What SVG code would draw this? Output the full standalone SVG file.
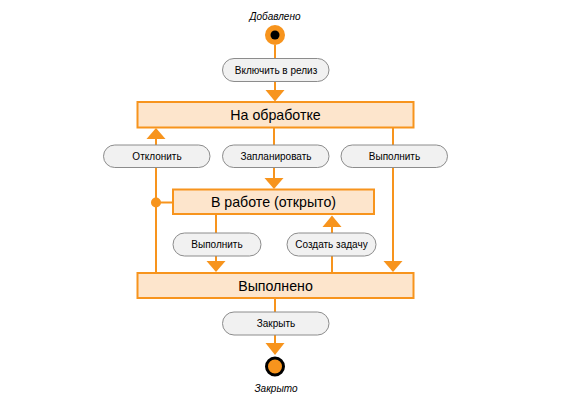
<svg xmlns="http://www.w3.org/2000/svg" width="566" height="406" viewBox="0 0 566 406">
<defs>
<style>
.ln{stroke:#f7941d;stroke-width:2;fill:none}
.ah{fill:#f7941d}
.st rect{fill:#fde5cc;stroke:#f7941d;stroke-width:2}
.st text{font-family:"Liberation Sans",Arial,sans-serif;font-size:14.2px;fill:#000;text-anchor:middle}
.tr rect{fill:#f1f1f1;stroke:#8c8c8c;stroke-width:1}
.tr text{font-family:"Liberation Sans",Arial,sans-serif;font-size:10px;fill:#000;text-anchor:middle}
.lbl{font-family:"Liberation Sans",Arial,sans-serif;font-size:10px;font-style:italic;fill:#000;text-anchor:middle}
</style>
</defs>
<rect width="566" height="406" fill="#fff"/>
<g id="connectors">
<path class="ln" d="M275 45V92"/>
<path class="ah" d="M265.5 90H284.5L275 101.5Z"/>
<path class="ln" d="M156 137V273"/>
<path class="ah" d="M146.5 139H165.5L156 128Z"/>
<path class="ln" d="M274 128V180"/>
<path class="ah" d="M264.5 178H283.5L274 189Z"/>
<path class="ln" d="M393 128V263"/>
<path class="ah" d="M383.5 261H402.5L393 272Z"/>
<circle cx="156" cy="202.5" r="5" fill="#f7941d"/>
<path class="ln" d="M156 202.5H173"/>
<path class="ln" d="M216 214V263"/>
<path class="ah" d="M206.5 261H225.5L216 272Z"/>
<path class="ln" d="M332 225V273"/>
<path class="ah" d="M322.5 227H341.5L332 215.5Z"/>
<path class="ln" d="M275 298V345"/>
<path class="ah" d="M265.5 343H284.5L275 355Z"/>
</g>
<g id="start">
<circle cx="275" cy="35" r="10" fill="#f7941d"/>
<circle cx="275" cy="35" r="4.5" fill="#000"/>
<text class="lbl" x="275" y="19.5">Добавлено</text>
</g>
<g id="end">
<circle cx="275" cy="366.5" r="8.5" fill="#f7941d" stroke="#000" stroke-width="3"/>
<text class="lbl" x="276" y="391.5">Закрыто</text>
</g>
<g id="t-include" class="tr"><rect x="222.5" y="58.5" width="106.5" height="23" rx="11.5"/><text x="276" y="73.5">Включить в релиз</text></g>
<g id="s-processing" class="st"><rect x="137.5" y="102" width="276" height="25.5"/><text x="275.5" y="119.5">На обработке</text></g>
<g id="t-reject" class="tr"><rect x="103.5" y="145" width="106.5" height="22.5" rx="11.25"/><text x="157" y="160">Отклонить</text></g>
<g id="t-plan" class="tr"><rect x="222.5" y="145" width="106.5" height="22.5" rx="11.25"/><text x="276" y="160">Запланировать</text></g>
<g id="t-do1" class="tr"><rect x="341" y="145" width="106.5" height="22.5" rx="11.25"/><text x="394.5" y="160">Выполнить</text></g>
<g id="s-inwork" class="st"><rect x="173" y="189.5" width="201" height="24.5"/><text x="273.5" y="206.5">В работе (открыто)</text></g>
<g id="t-do2" class="tr"><rect x="173" y="233" width="88" height="23" rx="11.5"/><text x="217" y="248">Выполнить</text></g>
<g id="t-task" class="tr"><rect x="287" y="233" width="89" height="23" rx="11.5"/><text x="331.5" y="248">Создать задачу</text></g>
<g id="s-done" class="st"><rect x="137.5" y="273" width="276" height="25"/><text x="275.5" y="290.5">Выполнено</text></g>
<g id="t-close" class="tr"><rect x="222.5" y="312" width="106.5" height="23" rx="11.5"/><text x="276" y="327">Закрыть</text></g>
</svg>
